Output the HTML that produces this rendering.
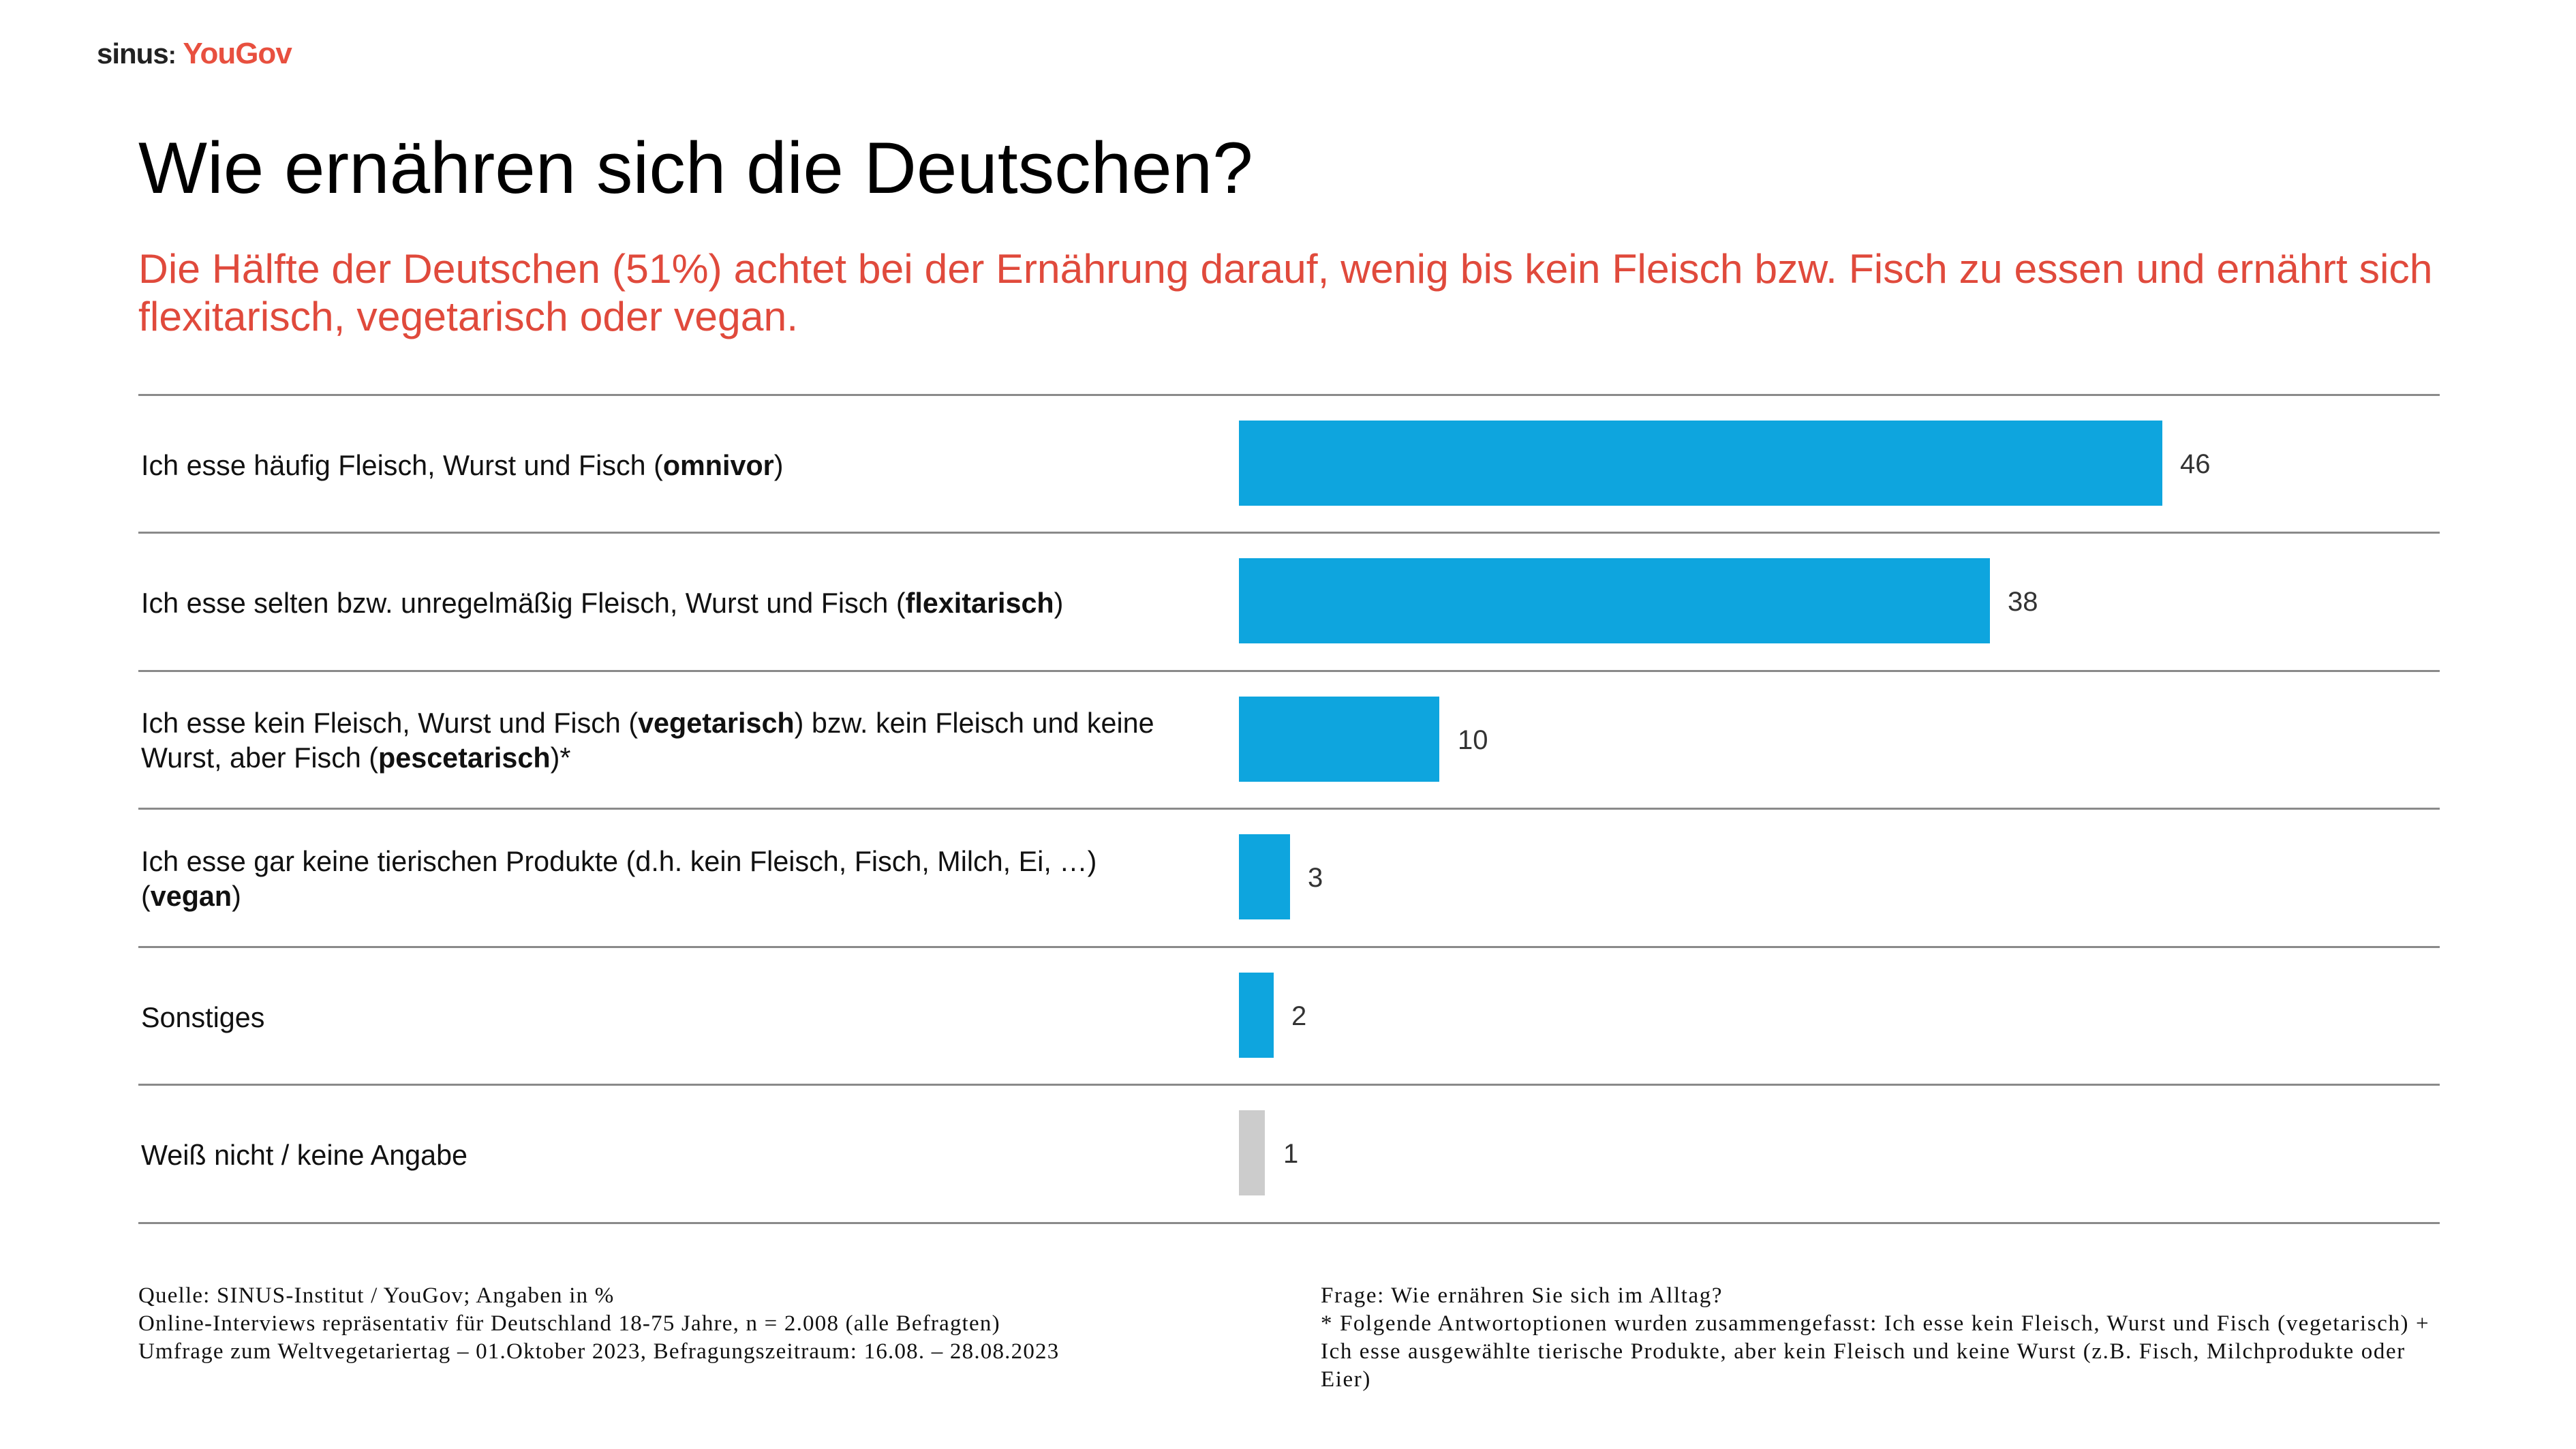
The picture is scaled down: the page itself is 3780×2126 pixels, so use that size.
<!DOCTYPE html>
<html><head><meta charset="utf-8"><style>
body{margin:0;width:3780px;height:2126px;background:#fff;position:relative;overflow:hidden;font-family:"Liberation Sans","DejaVu Sans",sans-serif}
.a{position:absolute;white-space:nowrap}
.hl{position:absolute;left:203px;width:3377px;height:3px;background:#8a8a8a}
.bar{position:absolute;left:1818px;height:125px;background:#0ea5de}
.lab{position:absolute;left:207px;font-size:41.3px;color:#111;line-height:51px;white-space:nowrap}
.val{position:absolute;font-size:40px;color:#333;line-height:51px}
.ft{position:absolute;font-family:"Liberation Serif",serif;font-size:33px;line-height:41px;color:#111;letter-spacing:1.2px;white-space:nowrap}
</style></head><body>
<div class="a" style="left:142px;top:54px;font-size:42px;font-weight:bold;color:#222;letter-spacing:-1px">sinus<span style="font-size:36px">:</span> <span style="color:#e8503f;font-size:44px">YouGov</span></div>
<div class="a" style="left:203px;top:193px;font-size:107px;line-height:1;color:#000">Wie ernähren sich die Deutschen?</div>
<div class="a" style="left:203px;top:359px;font-size:60.7px;color:#e04a3c;line-height:70px">Die Hälfte der Deutschen (51%) achtet bei der Ernährung darauf, wenig bis kein Fleisch bzw. Fisch zu essen und ernährt sich<br>flexitarisch, vegetarisch oder vegan.</div>

<div class="hl" style="top:578px"></div>
<div class="hl" style="top:780px"></div>
<div class="hl" style="top:983px"></div>
<div class="hl" style="top:1185px"></div>
<div class="hl" style="top:1388px"></div>
<div class="hl" style="top:1590px"></div>
<div class="hl" style="top:1793px"></div>

<div class="lab" style="top:658px">Ich esse häufig Fleisch, Wurst und Fisch (<b>omnivor</b>)</div>
<div class="lab" style="top:860px">Ich esse selten bzw. unregelmäßig Fleisch, Wurst und Fisch (<b>flexitarisch</b>)</div>
<div class="lab" style="top:1036px">Ich esse kein Fleisch, Wurst und Fisch (<b>vegetarisch</b>) bzw. kein Fleisch und keine<br>Wurst, aber Fisch (<b>pescetarisch</b>)*</div>
<div class="lab" style="top:1239px">Ich esse gar keine tierischen Produkte (d.h. kein Fleisch, Fisch, Milch, Ei, …)<br>(<b>vegan</b>)</div>
<div class="lab" style="top:1468px">Sonstiges</div>
<div class="lab" style="top:1670px">Weiß nicht / keine Angabe</div>

<div class="bar" style="top:617px;width:1355px"></div>
<div class="bar" style="top:819px;width:1102px"></div>
<div class="bar" style="top:1022px;width:294px"></div>
<div class="bar" style="top:1224px;width:75px"></div>
<div class="bar" style="top:1427px;width:51px"></div>
<div class="bar" style="top:1629px;width:38px;background:#cccccc"></div>

<div class="val" style="left:3199px;top:656px">46</div>
<div class="val" style="left:2946px;top:858px">38</div>
<div class="val" style="left:2139px;top:1061px">10</div>
<div class="val" style="left:1919px;top:1263px">3</div>
<div class="val" style="left:1895px;top:1466px">2</div>
<div class="val" style="left:1883px;top:1668px">1</div>

<div class="ft" style="left:203px;top:1881px">Quelle: SINUS-Institut / YouGov; Angaben in %<br>Online-Interviews repräsentativ für Deutschland 18-75 Jahre, n = 2.008 (alle Befragten)<br>Umfrage zum Weltvegetariertag – 01.Oktober 2023, Befragungszeitraum: 16.08. – 28.08.2023</div>
<div class="ft" style="left:1938px;top:1881px;letter-spacing:1.6px">Frage: Wie ernähren Sie sich im Alltag?<br>* Folgende Antwortoptionen wurden zusammengefasst: Ich esse kein Fleisch, Wurst und Fisch (vegetarisch) +<br>Ich esse ausgewählte tierische Produkte, aber kein Fleisch und keine Wurst (z.B. Fisch, Milchprodukte oder<br>Eier)</div>
</body></html>
